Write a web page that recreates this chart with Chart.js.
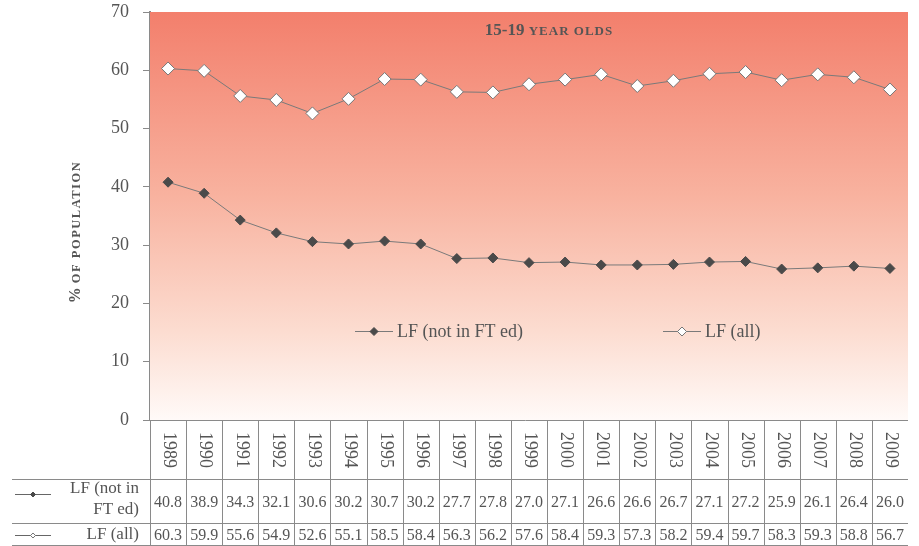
<!DOCTYPE html>
<html>
<head>
<meta charset="utf-8">
<script src="https://cdn.jsdelivr.net/npm/chart.js@4.4.1/dist/chart.umd.min.js"></script>
<style>
  html, body { margin: 0; padding: 0; background: #fff; }
  #wrap { width: 919px; height: 546px; }
</style>
</head>
<body>
<div id="wrap"><canvas id="chart" width="919" height="546"></canvas></div>
<script>
// data
const years = ["1989", "1990", "1991", "1992", "1993", "1994", "1995", "1996", "1997", "1998", "1999",
  "2000", "2001", "2002", "2003", "2004", "2005", "2006", "2007", "2008", "2009"];
const lfNotInFtEd = [40.8, 38.9, 34.3, 32.1, 30.6, 30.2, 30.7, 30.2, 27.7, 27.8, 27.0,
  27.1, 26.6, 26.6, 26.7, 27.1, 27.2, 25.9, 26.1, 26.4, 26.0];
const lfAll = [60.3, 59.9, 55.6, 54.9, 52.6, 55.1, 58.5, 58.4, 56.3, 56.2, 57.6,
  58.4, 59.3, 57.3, 58.2, 59.4, 59.7, 58.3, 59.3, 58.8, 56.7];
const seriesNames = ["LF (not in FT ed)", "LF (all)"];
const yMin = 0, yMax = 70, yStep = 10;

const TEXT = "#555";
const LINE = "#7a7a7a";
const GRIDC = "#8a8a8a";
const SERIF = "'Liberation Serif', 'DejaVu Serif', serif";

function diamond(ctx, x, y, r, fill, stroke) {
  ctx.beginPath();
  ctx.moveTo(x, y - r);
  ctx.lineTo(x + r, y);
  ctx.lineTo(x, y + r);
  ctx.lineTo(x - r, y);
  ctx.closePath();
  ctx.fillStyle = fill;
  ctx.fill();
  ctx.strokeStyle = stroke;
  ctx.lineWidth = 1;
  ctx.stroke();
}

const backdrop = {
  id: "backdrop",
  beforeDatasetsDraw(chart) {
    const { ctx, chartArea: a } = chart;
    const g = ctx.createLinearGradient(0, a.top, 0, a.bottom);
    g.addColorStop(0, "#f37f6c");
    g.addColorStop(0.45, "#f8b29f");
    g.addColorStop(0.78, "#fcdcd0");
    g.addColorStop(1, "#fffaf8");
    ctx.save();
    ctx.fillStyle = g;
    ctx.fillRect(a.left, a.top, a.right - a.left, a.bottom - a.top);
    ctx.restore();
  },
};

const decorations = {
  id: "decorations",
  afterDraw(chart) {
    const { ctx, chartArea: a } = chart;
    const xs = chart.scales.x;
    ctx.save();

    // title inside plot
    ctx.fillStyle = TEXT;
    ctx.textBaseline = "alphabetic";
    ctx.font = "bold 17px " + SERIF;
    const p1 = "15-19 ";
    ctx.letterSpacing = "0px";
    const w1 = ctx.measureText(p1).width;
    ctx.font = "bold 13px " + SERIF;
    ctx.letterSpacing = "1px";
    const p2 = "YEAR OLDS";
    const w2 = ctx.measureText(p2).width;
    const tx = 549 - (w1 + w2) / 2;
    ctx.letterSpacing = "0px";
    ctx.font = "bold 17px " + SERIF;
    ctx.textAlign = "left";
    ctx.fillText(p1, tx, 35);
    ctx.font = "bold 13px " + SERIF;
    ctx.letterSpacing = "1px";
    ctx.fillText(p2, tx + w1, 35);
    ctx.letterSpacing = "0px";

    // y title
    ctx.save();
    ctx.translate(80, 232);
    ctx.rotate(-Math.PI / 2);
    ctx.font = "bold 16px " + SERIF;
    const q1 = "% ";
    const qw1 = ctx.measureText(q1).width;
    ctx.font = "bold 12.5px " + SERIF;
    ctx.letterSpacing = "1.5px";
    const q2 = "OF POPULATION";
    const qw2 = ctx.measureText(q2).width;
    const qx = -(qw1 + qw2) / 2;
    ctx.fillText(q2, qx + qw1, 0);
    ctx.letterSpacing = "0px";
    ctx.font = "bold 16px " + SERIF;
    ctx.fillText(q1, qx, 0);
    ctx.restore();

    // legend inside plot
    const legY = 331;
    const legs = [
      { x0: 355, fill: "#4a4a4a", stroke: "#4a4a4a", r: 4 },
      { x0: 663, fill: "#fff", stroke: "#777", r: 4.5 },
    ];
    legs.forEach((l, i) => {
      ctx.strokeStyle = LINE;
      ctx.lineWidth = 1;
      ctx.beginPath();
      ctx.moveTo(l.x0, legY + 0.5);
      ctx.lineTo(l.x0 + 38, legY + 0.5);
      ctx.stroke();
      diamond(ctx, l.x0 + 19, legY + 0.5, l.r, l.fill, l.stroke);
      ctx.fillStyle = TEXT;
      ctx.font = "18px " + SERIF;
      ctx.textAlign = "left";
      ctx.textBaseline = "middle";
      ctx.fillText(seriesNames[i], l.x0 + 42, legY + 1);
    });

    // data table
    const n = years.length;
    const colW = xs.getPixelForValue(1) - xs.getPixelForValue(0);
    const edges = [];
    for (let i = 0; i <= n; i++) edges.push(xs.getPixelForValue(0) - colW / 2 + i * colW);
    const rTop = a.bottom + 0.5, r1 = 479.5, r2 = 523.5, rBot = 545.5;
    ctx.strokeStyle = GRIDC;
    ctx.lineWidth = 1;
    ctx.beginPath();
    ctx.moveTo(143, rTop); ctx.lineTo(edges[n], rTop);
    [r1, r2, rBot].forEach((y) => { ctx.moveTo(12, y); ctx.lineTo(edges[n], y); });
    for (let i = 0; i < n; i++) {
      const x = Math.round(edges[i]) + 0.5;
      ctx.moveTo(x, rTop); ctx.lineTo(x, rBot);
    }
    ctx.stroke();

    ctx.fillStyle = TEXT;
    for (let i = 0; i < n; i++) {
      const cx = xs.getPixelForValue(i);
      ctx.save();
      ctx.translate(cx + 1, (rTop + r1) / 2);
      ctx.rotate(Math.PI / 2);
      ctx.font = "18px " + SERIF;
      ctx.textAlign = "center";
      ctx.textBaseline = "middle";
      ctx.fillText(years[i], 0, 0);
      ctx.restore();
      ctx.font = "16px " + SERIF;
      ctx.textAlign = "center";
      ctx.textBaseline = "middle";
      ctx.fillText(lfNotInFtEd[i].toFixed(1), cx, (r1 + r2) / 2 + 1);
      ctx.fillText(lfAll[i].toFixed(1), cx, (r2 + rBot) / 2 + 1);
    }

    // row labels
    ctx.font = "17px " + SERIF;
    ctx.textAlign = "right";
    ctx.fillText("LF (not in", 139, 489);
    ctx.fillText("FT ed)", 139, 510);
    ctx.fillText(seriesNames[1], 139, 535);
    [[494, "#4a4a4a", "#4a4a4a"], [535, "#fff", "#777"]].forEach(([y, f, s]) => {
      ctx.strokeStyle = "#666";
      ctx.beginPath();
      ctx.moveTo(15, y + 0.5); ctx.lineTo(51, y + 0.5);
      ctx.stroke();
      diamond(ctx, 33, y + 0.5, 2.5, f, s);
    });

    ctx.restore();
  },
};

new Chart(document.getElementById("chart"), {
  type: "line",
  data: {
    labels: years,
    datasets: [
      {
        label: seriesNames[0],
        data: lfNotInFtEd,
        borderColor: LINE,
        borderWidth: 1,
        pointStyle: "rectRot",
        pointRadius: 5,
        pointBackgroundColor: "#4a4a4a",
        pointBorderColor: "#4a4a4a",
        pointBorderWidth: 1,
        tension: 0,
      },
      {
        label: seriesNames[1],
        data: lfAll,
        borderColor: LINE,
        borderWidth: 1,
        pointStyle: "rectRot",
        pointRadius: 6.5,
        pointBackgroundColor: "#ffffff",
        pointBorderColor: "#777",
        pointBorderWidth: 1,
        tension: 0,
      },
    ],
  },
  options: {
    responsive: false,
    animation: false,
    layout: { padding: { top: 0, right: 11, bottom: 126, left: 0 } },
    plugins: { legend: { display: false }, tooltip: { enabled: false } },
    scales: {
      x: { type: "category", offset: true, display: false },
      y: {
        min: yMin,
        max: yMax,
        afterFit(scale) { scale.width = 150; scale.paddingTop = 12; },
        border: { display: true, color: GRIDC, width: 2 },
        grid: { drawOnChartArea: false, drawTicks: true, tickLength: 7, color: GRIDC },
        ticks: {
          stepSize: yStep,
          padding: 14,
          color: TEXT,
          font: { family: SERIF, size: 18 },
        },
      },
    },
  },
  plugins: [backdrop, decorations],
});
</script>
</body>
</html>
